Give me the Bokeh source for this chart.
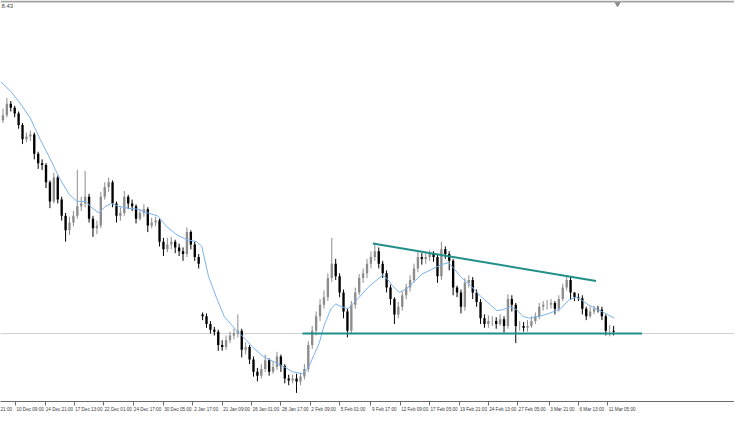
from bokeh.plotting import figure
from bokeh.models import (Range1d, LinearAxis, FixedTicker, Span, Label,
                          CustomJSTickFormatter)
from bokeh.embed import file_html
from bokeh.resources import INLINE

# ---- candle data (H4 bars, aggregated) ----
open_ = [1.305, 1.310, 1.322, 1.318, 1.312, 1.300, 1.285, 1.288, 1.290, 1.270,
         1.260, 1.258, 1.240, 1.220, 1.245, 1.222, 1.205, 1.190, 1.198, 1.205,
         1.215, 1.218, 1.225, 1.202, 1.192, 1.195, 1.225, 1.235, 1.240, 1.218,
         1.205, 1.208, 1.225, 1.218, 1.215, 1.202, 1.208, 1.212, 1.195, 1.198,
         1.200, 1.178, 1.170, 1.175, 1.178, 1.172, 1.168, 1.165, 1.188, 1.175,
         1.162, 1.102, 1.100, 1.092, 1.086, 1.084, 1.070, 1.068, 1.075, 1.080,
         1.082, 1.085, 1.065, 1.068, 1.055, 1.042, 1.038, 1.045, 1.054, 1.042,
         1.047, 1.058, 1.048, 1.035, 1.033, 1.035, 1.032, 1.037, 1.045, 1.070,
         1.085, 1.100, 1.112, 1.120, 1.140, 1.155, 1.142, 1.125, 1.105, 1.085,
         1.112, 1.125, 1.140, 1.145, 1.155, 1.162, 1.168, 1.155, 1.145, 1.130,
         1.118, 1.102, 1.110, 1.122, 1.130, 1.138, 1.150, 1.162, 1.160, 1.162,
         1.165, 1.162, 1.142, 1.170, 1.165, 1.158, 1.130, 1.125, 1.110, 1.135,
         1.138, 1.125, 1.115, 1.098, 1.092, 1.095, 1.095, 1.092, 1.097, 1.090,
         1.118, 1.112, 1.090, 1.090, 1.088, 1.090, 1.095, 1.100, 1.110, 1.112,
         1.112, 1.114, 1.108, 1.118, 1.130, 1.138, 1.125, 1.120, 1.119, 1.108,
         1.100, 1.105, 1.108, 1.107, 1.100, 1.085, 1.085]

high = [1.317, 1.328, 1.325, 1.320, 1.314, 1.302, 1.292, 1.294, 1.292, 1.272,
        1.264, 1.260, 1.242, 1.250, 1.247, 1.225, 1.208, 1.204, 1.210, 1.253,
        1.225, 1.252, 1.228, 1.205, 1.200, 1.230, 1.240, 1.245, 1.242, 1.220,
        1.214, 1.231, 1.227, 1.222, 1.217, 1.212, 1.217, 1.214, 1.203, 1.204,
        1.202, 1.182, 1.182, 1.183, 1.180, 1.176, 1.172, 1.193, 1.190, 1.178,
        1.165, 1.104, 1.103, 1.095, 1.089, 1.086, 1.075, 1.080, 1.084, 1.087,
        1.102, 1.087, 1.073, 1.070, 1.058, 1.046, 1.050, 1.060, 1.056, 1.053,
        1.063, 1.060, 1.050, 1.039, 1.039, 1.040, 1.041, 1.050, 1.074, 1.090,
        1.105, 1.118, 1.127, 1.145, 1.182, 1.160, 1.145, 1.128, 1.108, 1.116,
        1.130, 1.144, 1.150, 1.160, 1.168, 1.177, 1.172, 1.158, 1.148, 1.133,
        1.120, 1.115, 1.126, 1.134, 1.143, 1.155, 1.168, 1.166, 1.167, 1.169,
        1.168, 1.165, 1.178, 1.173, 1.168, 1.160, 1.132, 1.128, 1.140, 1.143,
        1.141, 1.128, 1.118, 1.102, 1.101, 1.100, 1.099, 1.102, 1.100, 1.123,
        1.122, 1.114, 1.095, 1.094, 1.096, 1.100, 1.104, 1.114, 1.116, 1.117,
        1.118, 1.116, 1.122, 1.134, 1.142, 1.141, 1.125, 1.124, 1.122, 1.110,
        1.110, 1.111, 1.111, 1.110, 1.102, 1.091, 1.090]

low = [1.302, 1.308, 1.314, 1.308, 1.296, 1.280, 1.282, 1.283, 1.264, 1.254,
       1.253, 1.234, 1.213, 1.218, 1.218, 1.200, 1.178, 1.185, 1.194, 1.202,
       1.210, 1.214, 1.198, 1.183, 1.186, 1.192, 1.222, 1.230, 1.214, 1.198,
       1.200, 1.205, 1.212, 1.210, 1.197, 1.200, 1.204, 1.188, 1.192, 1.194,
       1.173, 1.163, 1.167, 1.170, 1.166, 1.163, 1.158, 1.162, 1.170, 1.158,
       1.150, 1.096, 1.088, 1.082, 1.080, 1.064, 1.064, 1.065, 1.072, 1.076,
       1.078, 1.057, 1.060, 1.050, 1.037, 1.032, 1.035, 1.042, 1.038, 1.040,
       1.044, 1.042, 1.030, 1.028, 1.030, 1.020, 1.028, 1.034, 1.042, 1.066,
       1.080, 1.095, 1.108, 1.116, 1.136, 1.138, 1.120, 1.098, 1.078, 1.082,
       1.108, 1.122, 1.135, 1.140, 1.150, 1.158, 1.150, 1.140, 1.125, 1.112,
       1.092, 1.098, 1.106, 1.118, 1.126, 1.135, 1.146, 1.154, 1.155, 1.158,
       1.157, 1.135, 1.138, 1.160, 1.148, 1.122, 1.120, 1.103, 1.106, 1.130,
       1.118, 1.110, 1.092, 1.088, 1.088, 1.090, 1.087, 1.090, 1.083, 1.087,
       1.105, 1.072, 1.085, 1.084, 1.084, 1.088, 1.092, 1.097, 1.106, 1.107,
       1.108, 1.102, 1.105, 1.116, 1.127, 1.117, 1.116, 1.116, 1.102, 1.096,
       1.098, 1.102, 1.104, 1.096, 1.080, 1.079, 1.080]

close = [1.310, 1.322, 1.318, 1.312, 1.300, 1.285, 1.288, 1.290, 1.270, 1.260,
         1.258, 1.240, 1.220, 1.245, 1.222, 1.205, 1.190, 1.198, 1.205, 1.215,
         1.218, 1.225, 1.202, 1.192, 1.195, 1.225, 1.235, 1.240, 1.218, 1.205,
         1.208, 1.225, 1.218, 1.215, 1.202, 1.208, 1.212, 1.195, 1.198, 1.200,
         1.178, 1.170, 1.175, 1.178, 1.172, 1.168, 1.165, 1.188, 1.175, 1.162,
         1.155, 1.100, 1.092, 1.086, 1.084, 1.070, 1.068, 1.075, 1.080, 1.082,
         1.085, 1.065, 1.068, 1.055, 1.042, 1.038, 1.045, 1.054, 1.042, 1.047,
         1.058, 1.048, 1.035, 1.033, 1.035, 1.032, 1.037, 1.045, 1.070, 1.085,
         1.100, 1.112, 1.120, 1.140, 1.155, 1.142, 1.125, 1.105, 1.085, 1.112,
         1.125, 1.140, 1.145, 1.155, 1.162, 1.168, 1.155, 1.145, 1.130, 1.118,
         1.102, 1.110, 1.122, 1.130, 1.138, 1.150, 1.162, 1.160, 1.162, 1.165,
         1.162, 1.142, 1.170, 1.165, 1.158, 1.130, 1.125, 1.110, 1.135, 1.138,
         1.125, 1.115, 1.098, 1.092, 1.095, 1.095, 1.092, 1.097, 1.090, 1.118,
         1.112, 1.090, 1.090, 1.088, 1.090, 1.095, 1.100, 1.110, 1.112, 1.112,
         1.114, 1.108, 1.118, 1.130, 1.138, 1.125, 1.120, 1.119, 1.108, 1.100,
         1.105, 1.108, 1.107, 1.100, 1.085, 1.085, 1.084]

# ---- moving average, bar positions and values ----
ma_pos = [-0.5, 2.0, 4.5, 7.0, 9.5, 12.0, 14.5, 17.0, 19.0, 21.2,
          22.8, 24.5, 26.2, 27.8, 29.5, 32.0, 34.5, 37.0, 39.5, 42.0,
          44.5, 47.0, 49.5, 50.8, 52.5, 54.5, 56.5, 59.0, 61.5, 64.0,
          66.5, 69.0, 71.5, 74.0, 76.5, 78.0, 79.5, 80.8, 82.0, 83.8,
          85.0, 86.5, 88.2, 90.8, 93.2, 95.8, 97.0, 98.2, 99.5, 101.2,
          102.8, 104.5, 107.0, 109.5, 112.0, 113.8, 115.0, 117.0, 119.5, 122.0,
          124.5, 126.2, 127.8, 129.5, 131.2, 132.8, 134.5, 137.0, 139.5, 142.5,
          144.5, 146.5, 147.8, 149.5, 152.0, 156.2]
ma_val = [1.345, 1.335, 1.322, 1.307, 1.285, 1.265, 1.244, 1.227, 1.220, 1.220,
          1.213, 1.208, 1.215, 1.218, 1.215, 1.213, 1.212, 1.208, 1.205, 1.193,
          1.185, 1.180, 1.178, 1.173, 1.142, 1.120, 1.100, 1.088, 1.078, 1.067,
          1.058, 1.053, 1.048, 1.042, 1.040, 1.046, 1.060, 1.072, 1.090, 1.108,
          1.113, 1.110, 1.108, 1.119, 1.130, 1.139, 1.143, 1.139, 1.132, 1.125,
          1.128, 1.134, 1.144, 1.149, 1.154, 1.156, 1.151, 1.141, 1.132, 1.121,
          1.112, 1.106, 1.107, 1.110, 1.107, 1.100, 1.098, 1.100, 1.103, 1.108,
          1.117, 1.120, 1.117, 1.112, 1.107, 1.098]

# ---- drawn objects ----
support_level = 1.082
support_pos = [76.5, 163.25]
resist_pos = [94.5, 151.5]
resist_val = [1.176, 1.137]

# ---- time axis ----
tick_pos = [3.25, 10.75, 18.25, 25.75, 33.25, 41.0, 48.5, 56.0, 63.5, 71.0,
            78.5, 86.0, 94.0, 101.5, 109.0, 116.5, 124.0, 131.5, 139.5, 147.0, 154.5]
tick_labels = ["10 Dec 09:00", "14 Dec 21:00", "17 Dec 13:00", "22 Dec 01:00",
               "24 Dec 17:00", "30 Dec 05:00", "2 Jan 17:00", "21 Jan 09:00",
               "26 Jan 01:00", "28 Jan 17:00", "2 Feb 09:00", "5 Feb 01:00",
               "9 Feb 17:00", "12 Feb 09:00", "17 Feb 05:00", "19 Feb 21:00",
               "24 Feb 13:00", "27 Feb 05:00", "3 Mar 21:00", "6 Mar 13:00",
               "11 Mar 05:00"]
first_label = "21:00"
header_text = "8.43"

# ---- layout ----
W, H = 734, 414
BOTTOM = 11
x0, x_span = -0.625, 187.5
ppu = W / x_span                      # pixels per bar unit
FS = 4.6                              # label font size, px
CHAR_W = 0.45 * FS                    # approximate glyph advance

idx = list(range(len(close)))
bull = [c >= o for o, c in zip(open_, close)]
colors = ["#8c8c8c" if b else "#000000" for b in bull]
tops = [max(o, c) for o, c in zip(open_, close)]
bots = [min(o, c) for o, c in zip(open_, close)]

# label centres: each label starts 2px right of its tick mark
all_labels = [first_label] + tick_labels
label_centres = [x0 + (len(first_label) * CHAR_W / 2) / ppu] + \
    [t + (2 + len(s) * CHAR_W / 2) / ppu for t, s in zip(tick_pos, tick_labels)]

p = figure(width=W, height=H, output_backend="svg", toolbar_location=None,
           x_range=Range1d(x0, x0 + x_span), y_range=Range1d(1.011, 1.430),
           x_axis_type=None, y_axis_type=None,
           min_border_left=0, min_border_right=0, min_border_top=0,
           min_border_bottom=BOTTOM,
           outline_line_color=None, background_fill_color="white",
           border_fill_color="white")
p.xgrid.visible = False
p.ygrid.visible = False

ax = LinearAxis(ticker=FixedTicker(ticks=label_centres, minor_ticks=tick_pos),
                formatter=CustomJSTickFormatter(args=dict(names=all_labels),
                                                code="return names[index];"),
                axis_line_color="#6a6a6a", axis_line_width=1,
                major_tick_line_color=None, major_tick_in=0, major_tick_out=3,
                minor_tick_line_color="#6a6a6a", minor_tick_in=0, minor_tick_out=4,
                major_label_text_font="'Liberation Sans Narrow', 'Liberation Sans'",
                major_label_text_font_size=f"{FS}px",
                major_label_text_color="#3a3a3a",
                major_label_standoff=1)
p.add_layout(ax, "below")

# horizontal level line across the whole chart
p.add_layout(Span(location=support_level, dimension="width", line_color="#cfcfcf",
                  line_width=1, level="underlay"))
# top border
p.add_layout(Span(location=1.429, dimension="width", line_color="#a4a4a4", line_width=2))

# candles
p.segment(x0=idx, y0=low, x1=idx, y1=high, line_color=colors, line_width=1)
p.vbar(x=idx, width=0.6, top=tops, bottom=bots, fill_color=colors, line_color=None)

# moving average
p.line(ma_pos, ma_val, line_color="#7ab2ee", line_width=1)

# trend lines
p.line(support_pos, [support_level, support_level], line_color="#1f8f87", line_width=2)
p.line(resist_pos, resist_val, line_color="#1f8f87", line_width=2)

# chart shift marker
p.scatter(x=[len(close)], y=[1.4265], marker="inverted_triangle", size=5,
          fill_color="#8a8a8a", line_color="#8a8a8a")

# header text (top-left)
p.add_layout(Label(x=x0, y=1.4265, x_offset=1, text=header_text, text_align="left",
                   text_baseline="top", text_font="Liberation Sans",
                   text_font_size="6px", text_color="#444444"))

open("out.html", "w").write(file_html(p, INLINE))
